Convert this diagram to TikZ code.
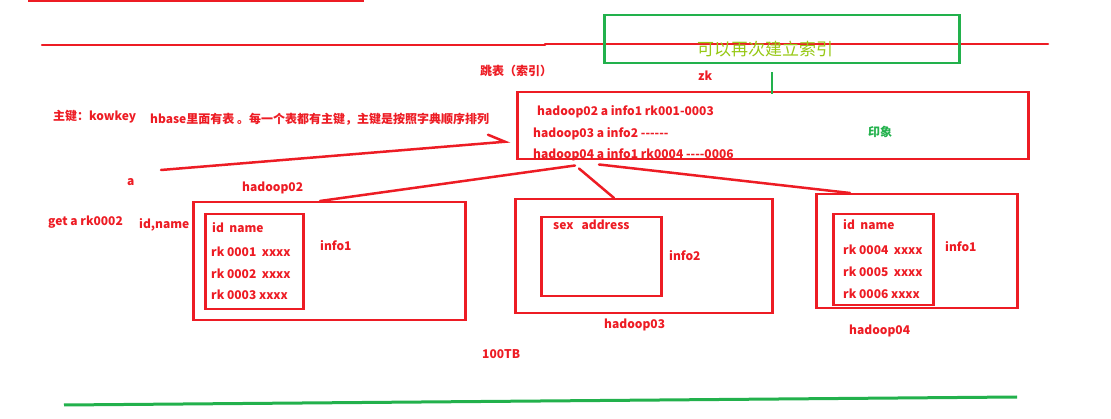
\documentclass[tikz,border=0pt]{standalone}
\usepackage{fontspec}
\setmainfont{Noto Sans CJK SC}
\usetikzlibrary{calc}
\definecolor{pred}{RGB}{237,28,36}
\definecolor{pgreen}{RGB}{34,177,76}
\definecolor{ygreen}{RGB}{150,200,20}
\tikzset{redbox/.style = {draw = pred, line width = 2.5pt, inner sep = 0pt, anchor = north west}}
\tikzset{redline/.style = {draw = pred, line width = 2.5pt, line cap = round}}
\tikzset{lbl/.style = {text = pred, font = \bfseries\fontsize{12}{12}\selectfont, inner sep = 0pt, anchor = west}}

\begin{document}
\begin{tikzpicture}[x = 1pt, y = -1pt]
\useasboundingbox (0,0) rectangle (1111,419);
\draw[redline] (29,-6) rectangle (363,1);
\draw[redline] (42,45) -- (545,45);
\draw[redline] (545,44) -- (1048,44);
\node[redbox, draw = pgreen, minimum width = 355pt, minimum height = 48pt] (gbox) at (603,14) {};
\node[text = ygreen, font = \fontsize{17}{17}\selectfont, inner sep = 0pt] (again) at (765,49) {可以再次建立索引};
\node[lbl] (skip) at (480,71) {跳表（索引）};
\node[lbl] (zk) at (698,76) {zk};
\node[lbl] (row02) at (537,112) {hadoop02 a info1 rk001-0003};
\node[lbl] (row03) at (533,134) {hadoop03 a info2 {-}{-}{-}{-}{-}{-}};
\node[lbl] (row04) at (533,155) {hadoop04 a info1 rk0004 {-}{-}{-}{-}0006};
\node[lbl, text = pgreen] (image) at (868,132) {印象};
\node[redbox, minimum width = 511pt, minimum height = 67pt] (idx) at (516,91) {};
\draw[pgreen, line width = 2pt] ($(gbox.south)+(-10,8)$) -- ($(idx.north)+(-1,3)$);
\node[lbl] (key) at (53,117) {主键：kowkey};
\node[lbl] (note) at (150,119) {hbase里面有表 。每一个表都有主键，主键是按照字典顺序排列};
\coordinate (tail) at (161,170);
\draw[redline] (tail) -- ($(idx.west)+(-11,16)$) -- ++(-17,-7);
\node[lbl] (a) at (127,182) {a};
\node[lbl] (get) at (48,222) {get a rk0002};
\node[lbl] (cols) at (139,225) {id,name};
\node[lbl] (n02) at (242,188) {hadoop02};
\node[redbox, minimum width = 272pt, minimum height = 118pt] (h02) at (192,201) {};
\node[redbox, minimum width = 98pt, minimum height = 95pt] (t02) at (204,213) {};
\node[lbl] (c02) at (212,228) {id\ \ name};
\node[lbl] (r1) at (211,252) {rk 0001\ \ xxxx};
\node[lbl] (r2) at (211,274) {rk 0002\ \ xxxx};
\node[lbl] (r3) at (211,295) {rk 0003 xxxx};
\node[lbl] (f02) at (320,246) {info1};
\node[redbox, minimum width = 257pt, minimum height = 114pt] (h03) at (514,198) {};
\node[redbox, minimum width = 120pt, minimum height = 79pt] (t03) at (540,216) {};
\node[lbl] (c03) at (553,225) {sex\ \ \ address};
\node[lbl] (f03) at (669,256) {info2};
\node[lbl] (n03) at (604,325) {hadoop03};
\node[redbox, minimum width = 201pt, minimum height = 114pt] (h04) at (815,193) {};
\node[redbox, minimum width = 100pt, minimum height = 91pt] (t04) at (832,213) {};
\node[lbl] (c04) at (843,225) {id\ \ name};
\node[lbl] (r4) at (843,250) {rk 0004\ \ xxxx};
\node[lbl] (r5) at (843,272) {rk 0005\ \ xxxx};
\node[lbl] (r6) at (843,294) {rk 0006 xxxx};
\node[lbl] (f04) at (945,247) {info1};
\node[lbl] (n04) at (849,331) {hadoop04};
\draw[redline] ($(idx.south west)+(59,5)$) -- ($(h02.north west)+(128,0)$);
\draw[redline] ($(idx.south west)+(63,8)$) -- ($(h03.north west)+(100,0)$);
\draw[redline] ($(idx.south west)+(83,4)$) -- ($(h04.north west)+(35,0)$);
\node[lbl] (size) at (482,354) {100TB};
\coordinate (gl) at (64,405);
\coordinate (gr) at (1017,397);
\draw[pgreen, line width = 3pt] (gl) -- (gr);
\end{tikzpicture}
\end{document}
